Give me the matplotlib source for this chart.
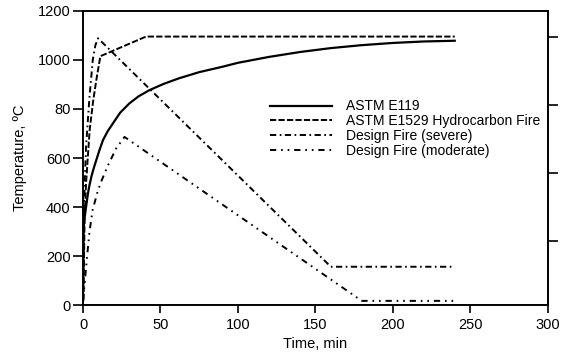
import matplotlib
matplotlib.use("Agg")
from matplotlib import pyplot as plt

plt.rcParams['font.family'] = ['Liberation Sans', 'DejaVu Sans']
plt.rcParams['lines.scale_dashes'] = False

# ASTM E119 standard curve
t_e119 = [0, 0.45, 1, 1.7, 2.5, 3.2, 4.2, 5.4, 7, 8.6, 10.5, 12.9, 16, 19.3, 24, 30, 36, 43,
          52, 62, 75, 90, 100, 120, 140, 160, 180, 200, 220, 240]
T_e119 = [20, 320, 355, 388, 425, 456, 490, 524, 560, 592, 630, 673, 710, 741, 785, 823, 852,
          877, 902, 925, 950, 972, 988, 1012, 1032, 1048, 1060, 1069, 1075, 1078]

# ASTM E1529 hydrocarbon fire
t_e1529 = [0.3, 1, 2, 4.3, 6.5, 8.6, 11.2, 40.7, 240]
T_e1529 = [20, 350, 500, 715, 830, 918, 1015, 1095, 1095]

# design fire (severe)
t_sev = [0, 0.5, 1, 2, 4.2, 6.3, 8, 9.7, 160, 240]
T_sev = [20, 350, 480, 650, 850, 1000, 1060, 1088, 157, 157]

# design fire (moderate)
t_mod = [0, 1.3, 2.6, 4.2, 6.2, 9.5, 11.8, 16.1, 21.5, 26.8, 180, 240]
T_mod = [20, 103, 198, 300, 388, 465, 505, 570, 640, 686, 18, 18]

yticks = [0, 200, 400, 600, 800, 1000, 1200]
ylabels = ['0', '200', '400', '600', '80', '1000', '1200']
xticks = [0, 50, 100, 150, 200, 250, 300]

fig = plt.figure(figsize=(5.62, 3.6), dpi=100)
ax = fig.add_axes([0.1477, 0.152, 0.8268, 0.818])

lw = 1.4
ax.plot(t_e119, T_e119, color='black', lw=1.6, label='ASTM E119')
ax.plot(t_e1529, T_e1529, color='black', lw=lw, linestyle=(0, (4.5, 1.6)),
        label='ASTM E1529 Hydrocarbon Fire')
ax.plot(t_sev, T_sev, color='black', lw=lw, linestyle=(0, (4.5, 2.5, 1.2, 2.5)),
        label='Design Fire (severe)')
ax.plot(t_mod, T_mod, color='black', lw=lw,
        linestyle=(0, (4.5, 3.5, 1.2, 3.5, 1.2, 3.5)),
        label='Design Fire (moderate)')

ax.set_xlim(0, 300)
ax.set_ylim(0, 1200)
ax.set_xticks(xticks)
ax.set_yticks(yticks)
ax.set_yticklabels(ylabels)
ax.tick_params(axis='both', labelsize=10.5, width=1.2, colors='black')
ax.tick_params(axis='y', length=7, pad=2)
ax.tick_params(axis='x', length=5.5, pad=4)
for s in ax.spines.values():
    s.set_linewidth(1.2)

ax.set_xlabel('Time, min', fontsize=10.5, labelpad=3)
ax.set_ylabel('Temperature, ºC', fontsize=10.5, labelpad=8)

# right axis in degrees F, ticks only
ax2 = ax.twinx()
ax2.set_ylim(32, 1200 * 9 / 5 + 32)
ax2.set_yticks([500, 1000, 1500, 2000])
ax2.set_yticklabels([])
ax2.tick_params(axis='y', length=7, width=1.2)
for s in ax2.spines.values():
    s.set_linewidth(1.2)

ax.legend(loc='upper left', bbox_to_anchor=(0.402, 0.699), frameon=False,
          fontsize=10, handlelength=4.5, handletextpad=1.0, labelspacing=0.05,
          borderaxespad=0, borderpad=0)

fig.savefig('out.png', dpi=100)
